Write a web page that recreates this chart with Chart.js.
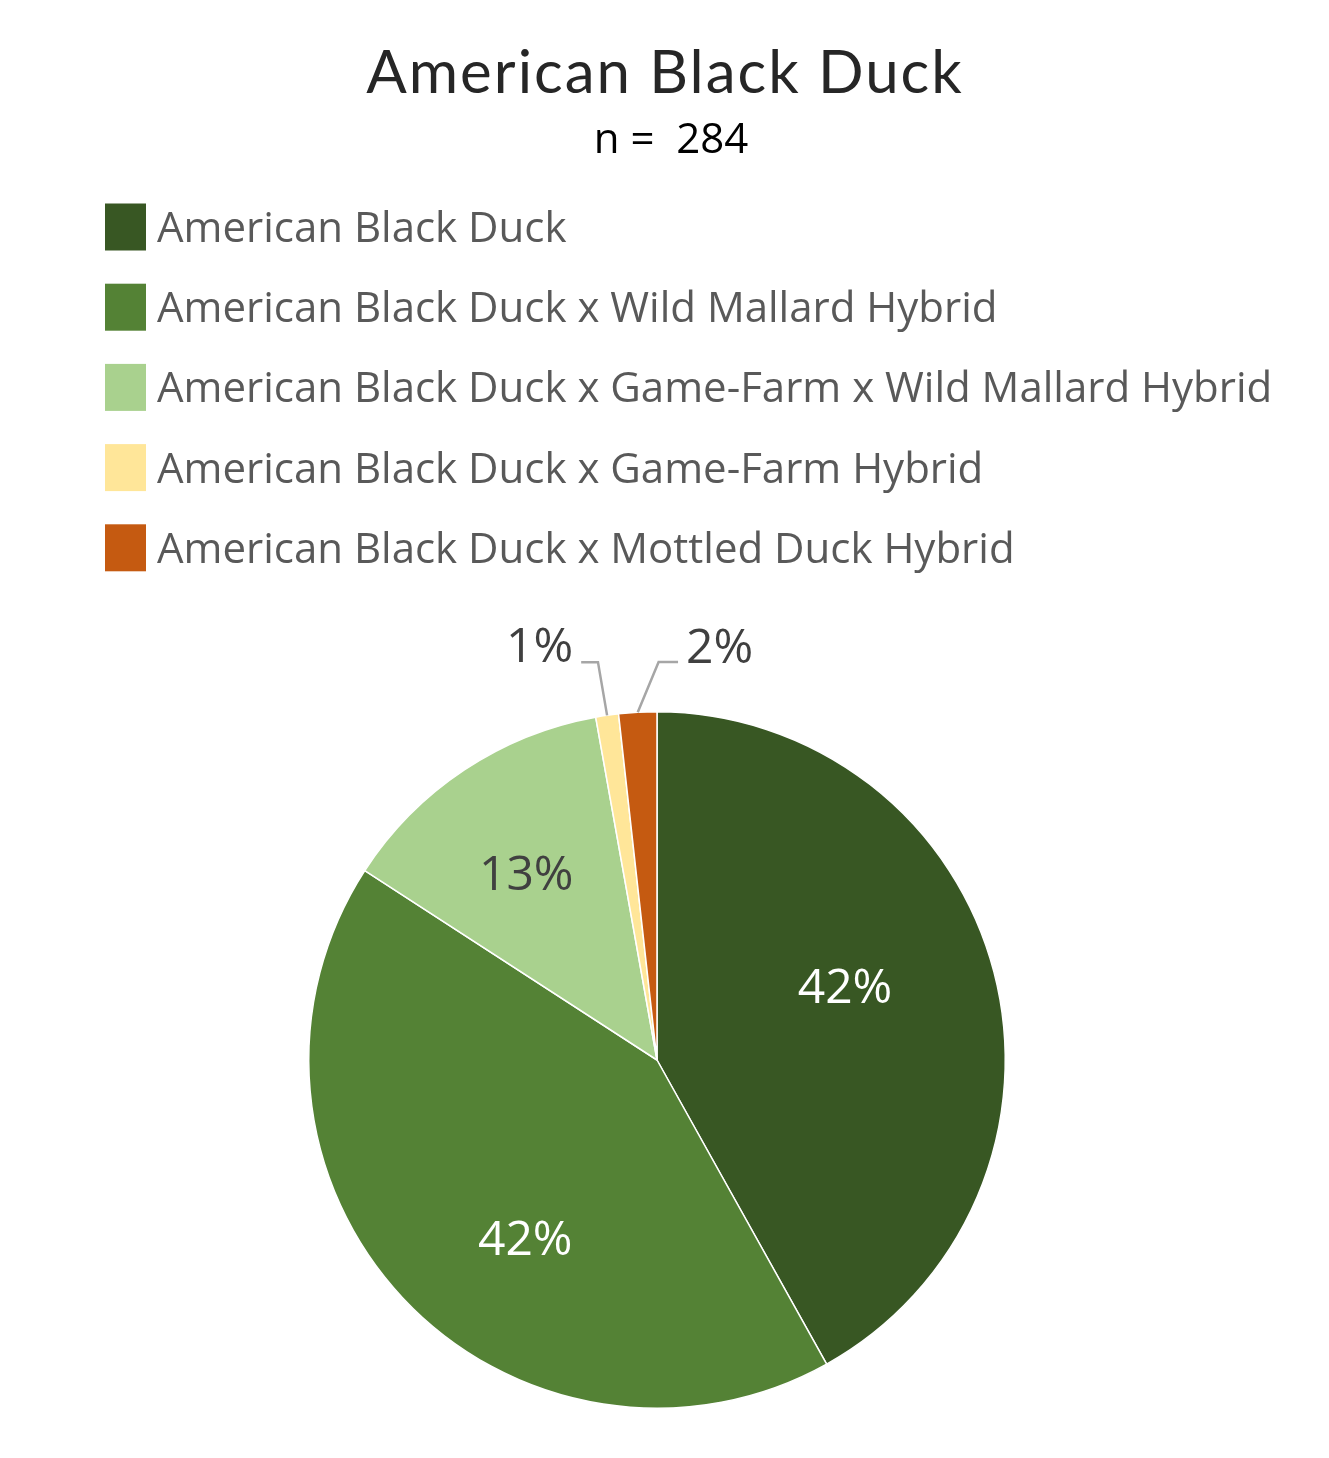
<!DOCTYPE html>
<html>
<head>
<meta charset="utf-8">
<script src="https://cdn.jsdelivr.net/npm/chart.js@4.4.0/dist/chart.umd.min.js"></script>
<style>
  html, body { margin: 0; padding: 0; background: #ffffff; }
  #wrap { width: 1329px; height: 1458px; position: relative; }
</style>
</head>
<body>
<div id="wrap"><canvas id="c" width="1329" height="1458"></canvas></div>
<script>
// ---- data ----
const titleText = "American Black Duck";
const subtitleText = "n =  284";
const categories = [
  "American Black Duck",
  "American Black Duck x Wild Mallard Hybrid",
  "American Black Duck x Game-Farm x Wild Mallard Hybrid",
  "American Black Duck x Game-Farm Hybrid",
  "American Black Duck x Mottled Duck Hybrid"
];
const counts = [119, 120, 37, 3, 5];
const percentLabels = ["42%", "42%", "13%", "1%", "2%"];

// ---- styles ----
const sliceColors = ["#385723", "#548235", "#A9D18E", "#FFE699", "#C55A11"];
const labelColors = ["#ffffff", "#ffffff", "#404040", "#404040", "#404040"];
// label placement relative to slice middle (radius fraction, angle shift deg); leader for outside labels
const labelPlacement = [
  { r: 0.579, dA: -6.6 },
  { r: 0.639, dA: -10.6 },
  { r: 0.653, dA: -1.5 },
  { r: 1.235, dA: -7.6, leader: { r: 1.155, dA: -0.2 } },
  { r: 1.198, dA: 11.8, leader: { r: 1.143, dA: 3.4 } }
];

const headerPlugin = {
  id: 'header',
  afterDraw(chart) {
    const ctx = chart.ctx;
    ctx.save();
    // title
    ctx.fillStyle = '#262626';
    ctx.font = '60px Lato';
    ctx.textAlign = 'center';
    ctx.textBaseline = 'alphabetic';
    try { ctx.letterSpacing = '2px'; } catch (e) {}
    ctx.fillText(titleText, 665, 93);
    try { ctx.letterSpacing = '0px'; } catch (e) {}
    // subtitle
    ctx.fillStyle = '#000000';
    ctx.font = '42px "Open Sans"';
    ctx.fillText(subtitleText, 671, 153);
    // legend
    const ds = chart.data.datasets[0];
    ctx.textAlign = 'left';
    ctx.font = '42px "Open Sans"';
    chart.data.labels.forEach((lab, i) => {
      const cy = 227 + i * 80.2;
      ctx.fillStyle = ds.backgroundColor[i];
      ctx.fillRect(105, cy - 23.5, 41, 47);
      ctx.fillStyle = '#595959';
      ctx.fillText(lab, 157, cy + 15);
    });
    ctx.restore();
  }
};

const labelPlugin = {
  id: 'sliceLabels',
  afterDatasetsDraw(chart) {
    const ctx = chart.ctx;
    const meta = chart.getDatasetMeta(0);
    ctx.save();
    ctx.font = '48px "Open Sans"';
    ctx.textAlign = 'center';
    ctx.textBaseline = 'middle';
    meta.data.forEach((arc, i) => {
      const p = arc.getProps(['x', 'y', 'startAngle', 'endAngle', 'outerRadius'], true);
      const mid = (p.startAngle + p.endAngle) / 2;
      const cfg = labelPlacement[i];
      const a = mid + cfg.dA * Math.PI / 180;
      const lx = p.x + Math.cos(a) * p.outerRadius * cfg.r;
      const ly = p.y + Math.sin(a) * p.outerRadius * cfg.r;
      const txt = percentLabels[i];
      if (cfg.leader) {
        const sx = p.x + Math.cos(mid) * p.outerRadius;
        const sy = p.y + Math.sin(mid) * p.outerRadius;
        const ea = mid + cfg.leader.dA * Math.PI / 180;
        const ex = p.x + Math.cos(ea) * p.outerRadius * cfg.leader.r;
        const ey = p.y + Math.sin(ea) * p.outerRadius * cfg.leader.r;
        const w = ctx.measureText(txt).width;
        const hx = lx < ex ? lx + w / 2 + 8 : lx - w / 2 - 8;
        ctx.strokeStyle = '#A6A6A6';
        ctx.lineWidth = 2.5;
        ctx.beginPath();
        ctx.moveTo(sx, sy);
        ctx.lineTo(ex, ey);
        ctx.lineTo(hx, ey);
        ctx.stroke();
      }
      ctx.fillStyle = labelColors[i];
      ctx.fillText(txt, lx, ly + 2);
    });
    ctx.restore();
  }
};

new Chart(document.getElementById('c'), {
  type: 'pie',
  data: {
    labels: categories,
    datasets: [{
      data: counts,
      backgroundColor: sliceColors,
      borderColor: '#ffffff',
      borderWidth: 1.5
    }]
  },
  options: {
    responsive: false,
    animation: false,
    devicePixelRatio: 1,
    layout: { padding: { left: 308, right: 323, top: 711, bottom: 49 } },
    plugins: {
      legend: { display: false },
      title: { display: false },
      tooltip: { enabled: false }
    }
  },
  plugins: [headerPlugin, labelPlugin]
});
</script>
</body>
</html>
